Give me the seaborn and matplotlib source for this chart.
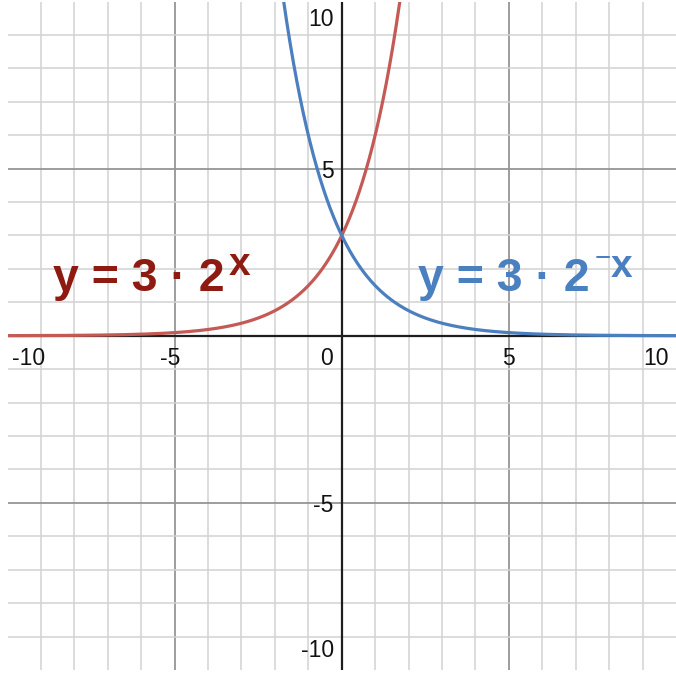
import numpy as np
import pandas as pd
import matplotlib
matplotlib.use("Agg")
import matplotlib.pyplot as plt
import seaborn as sns

# ---- data ----
coefficient = 3          # y = 3 * 2^x  and  y = 3 * 2^-x
base = 2
exponent_signs = [1, -1]
series_names = ["y = 3 · 2^x", "y = 3 · 2^-x"]
x_samples = np.linspace(-10, 10, 801)
x_tick_labels = [-10, -5, 0, 5, 10]
y_tick_labels = [-10, -5, 5, 10]

frames = []
for sgn, name in zip(exponent_signs, series_names):
    frames.append(pd.DataFrame({"x": x_samples,
                                "y": coefficient * np.power(float(base), sgn * x_samples),
                                "series": name}))
df = pd.concat(frames, ignore_index=True)

sns.set_style("white")
plt.rcParams["font.family"] = ["Liberation Sans", "DejaVu Sans"]

fig = plt.figure(figsize=(6.76, 6.80), dpi=100)
ax = fig.add_axes([7.5 / 676, 10 / 680, 668.5 / 676, 668.5 / 680])

red = "#c45a55"
blue = "#4b7fbf"
sns.lineplot(data=df, x="x", y="y", hue="series", palette=[red, blue],
             linewidth=2.3, legend=False, ax=ax, sort=False, zorder=5)

ax.set_xlim(-10, 10)
ax.set_ylim(-10, 10)

# grid: minor every 1, major every 5
ax.set_xticks([-5, 5])
ax.set_yticks([-5, 5])
ax.set_xticks([v for v in range(-9, 10) if v % 5 != 0], minor=True)
ax.set_yticks([v for v in range(-9, 10) if v % 5 != 0], minor=True)
ax.grid(True, which="minor", color="#d2d2d2", linewidth=1.1, zorder=0)
ax.grid(True, which="major", color="#959595", linewidth=1.3, zorder=0)
ax.tick_params(which="both", length=0, labelbottom=False, labelleft=False)
ax.set_xlabel("")
ax.set_ylabel("")
for s in ax.spines.values():
    s.set_visible(False)

# axes lines
ax.axhline(0, color="#1e1e1e", linewidth=1.6, zorder=3)
ax.axvline(0, color="#1e1e1e", linewidth=1.6, zorder=3)

fs = 16.5
tc = "#111111"
# x tick labels
for v in x_tick_labels:
    txt = str(v)
    if v == -10:
        ax.annotate(txt, (v, 0), xytext=(5, -11), textcoords="offset pixels",
                    ha="left", va="top", fontsize=fs, color=tc)
    elif v == 0:
        ax.annotate(txt, (v, 0), xytext=(-9, -11), textcoords="offset pixels",
                    ha="right", va="top", fontsize=fs, color=tc)
    elif v == 10:
        ax.annotate(txt, (v, 0), xytext=(-7, -11), textcoords="offset pixels",
                    ha="right", va="top", fontsize=fs, color=tc)
    elif v < 0:
        ax.annotate(txt, (v, 0), xytext=(-4, -11), textcoords="offset pixels",
                    ha="center", va="top", fontsize=fs, color=tc)
    else:
        ax.annotate(txt, (v, 0), xytext=(0, -11), textcoords="offset pixels",
                    ha="center", va="top", fontsize=fs, color=tc)

# y tick labels
for v in y_tick_labels:
    txt = str(v)
    if v == 10:
        ax.annotate(txt, (0, v), xytext=(-8, -7), textcoords="offset pixels",
                    ha="right", va="top", fontsize=fs, color=tc)
    elif v == -10:
        ax.annotate(txt, (0, v), xytext=(-8, 8), textcoords="offset pixels",
                    ha="right", va="bottom", fontsize=fs, color=tc)
    else:
        ax.annotate(txt, (0, v), xytext=(-8, 0), textcoords="offset pixels",
                    ha="right", va="center_baseline", fontsize=fs, color=tc)

# equation labels
lab_fs = 33.5
sup_fs = 28
dark_red = "#8e1b12"
lab_blue = "#4a7fc0"
base_y = 335.7 - 291
ax.annotate("y = 3 · 2", (0, 0), xytext=(53 - 341.7, base_y), textcoords="offset pixels",
            ha="left", va="baseline", fontsize=lab_fs, fontweight="bold", color=dark_red)
ax.annotate("x", (0, 0), xytext=(229 - 341.7, 335.7 - 275), textcoords="offset pixels",
            ha="left", va="baseline", fontsize=sup_fs, fontweight="bold", color=dark_red)
ax.annotate("y = 3 · 2", (0, 0), xytext=(418 - 341.7, base_y), textcoords="offset pixels",
            ha="left", va="baseline", fontsize=lab_fs, fontweight="bold", color=lab_blue)
ax.annotate("\u2212", (0, 0), xytext=(595 - 341.7, 335.7 - 266), textcoords="offset pixels",
            ha="left", va="baseline", fontsize=20, color=lab_blue)
ax.annotate("x", (0, 0), xytext=(611 - 341.7, 335.7 - 277), textcoords="offset pixels",
            ha="left", va="baseline", fontsize=sup_fs, fontweight="bold", color=lab_blue)

fig.savefig("out.png", dpi=100, facecolor="white")
